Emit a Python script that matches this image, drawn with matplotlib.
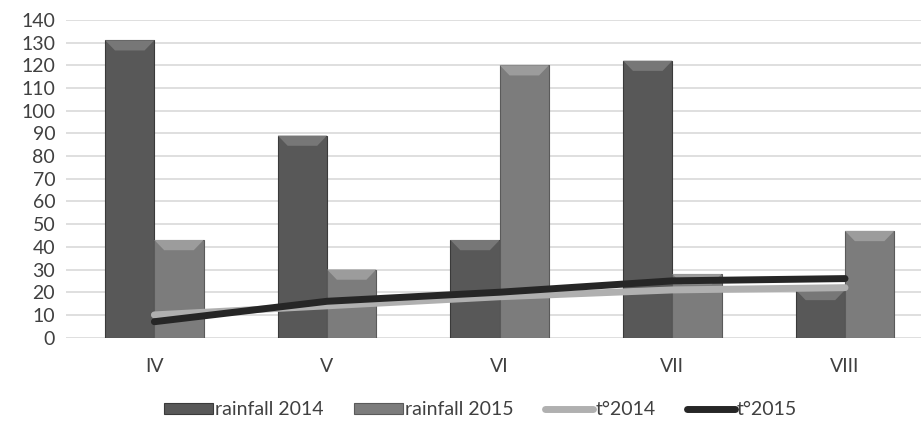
import numpy as np
import matplotlib
matplotlib.use('Agg')
import matplotlib.pyplot as plt
from matplotlib.patches import Polygon

plt.rcParams['font.family'] = ['Lato', 'DejaVu Sans']

months = ['IV', 'V', 'VI', 'VII', 'VIII']
rain_2014 = [131, 89, 43, 122, 21]
rain_2015 = [43, 30, 120, 28, 47]
t_2014 = [10, 14, 18, 21, 22]
t_2015 = [7, 16, 20, 25, 26]

fig = plt.figure(figsize=(9.21, 4.22), dpi=100, facecolor='white')
ax = fig.add_axes([0.072, 0.2, 0.928, 0.753])

x = np.arange(len(months))
w = 0.285
b1 = ax.bar(x - w / 2, rain_2014, w, color='#585858', edgecolor='#3a3a3a', linewidth=0.8, zorder=2, label='rainfall 2014')
b2 = ax.bar(x + w / 2, rain_2015, w, color='#7c7c7c', edgecolor='#5a5a5a', linewidth=0.8, zorder=2, label='rainfall 2015')

# bevel highlight on top of each bar
for bars, hl in ((b1, '#777777'), (b2, '#9c9c9c')):
    for r in bars:
        x0, x1 = r.get_x(), r.get_x() + r.get_width()
        top = r.get_height()
        d = 4.5
        inset = r.get_width() * 0.2
        ax.add_patch(Polygon([(x0, top), (x1, top), (x1 - inset, top - d), (x0 + inset, top - d)],
                             closed=True, facecolor=hl, edgecolor='none', zorder=3))

l1, = ax.plot(x, t_2014, color='#b0b0b0', linewidth=5, solid_capstyle='round', zorder=4, label='t°2014')
l2, = ax.plot(x, t_2015, color='#262626', linewidth=5, solid_capstyle='round', zorder=5, label='t°2015')

ax.set_ylim(0, 140)
ax.set_yticks(range(0, 141, 10))
ax.set_xlim(-0.51, 4.44)
ax.set_xticks(x)
ax.set_xticklabels(months)
ax.grid(axis='y', color='#d9d9d9', linewidth=1.2, zorder=0)
ax.set_axisbelow(True)
for s in ax.spines.values():
    s.set_visible(False)
ax.tick_params(length=0, labelsize=14, colors='#404040')
ax.tick_params(axis='x', pad=15)
ax.tick_params(axis='y', pad=8)

ax.legend([b1, b2, l1, l2], ['rainfall 2014', 'rainfall 2015', 't°2014', 't°2015'],
          loc='upper center', bbox_to_anchor=(0.485, -0.145), ncol=4, frameon=False,
          fontsize=14, handlelength=2.5, handleheight=0.5, handletextpad=0.1,
          columnspacing=1.6, labelcolor='#404040')

fig.savefig('out.png', dpi=100)
